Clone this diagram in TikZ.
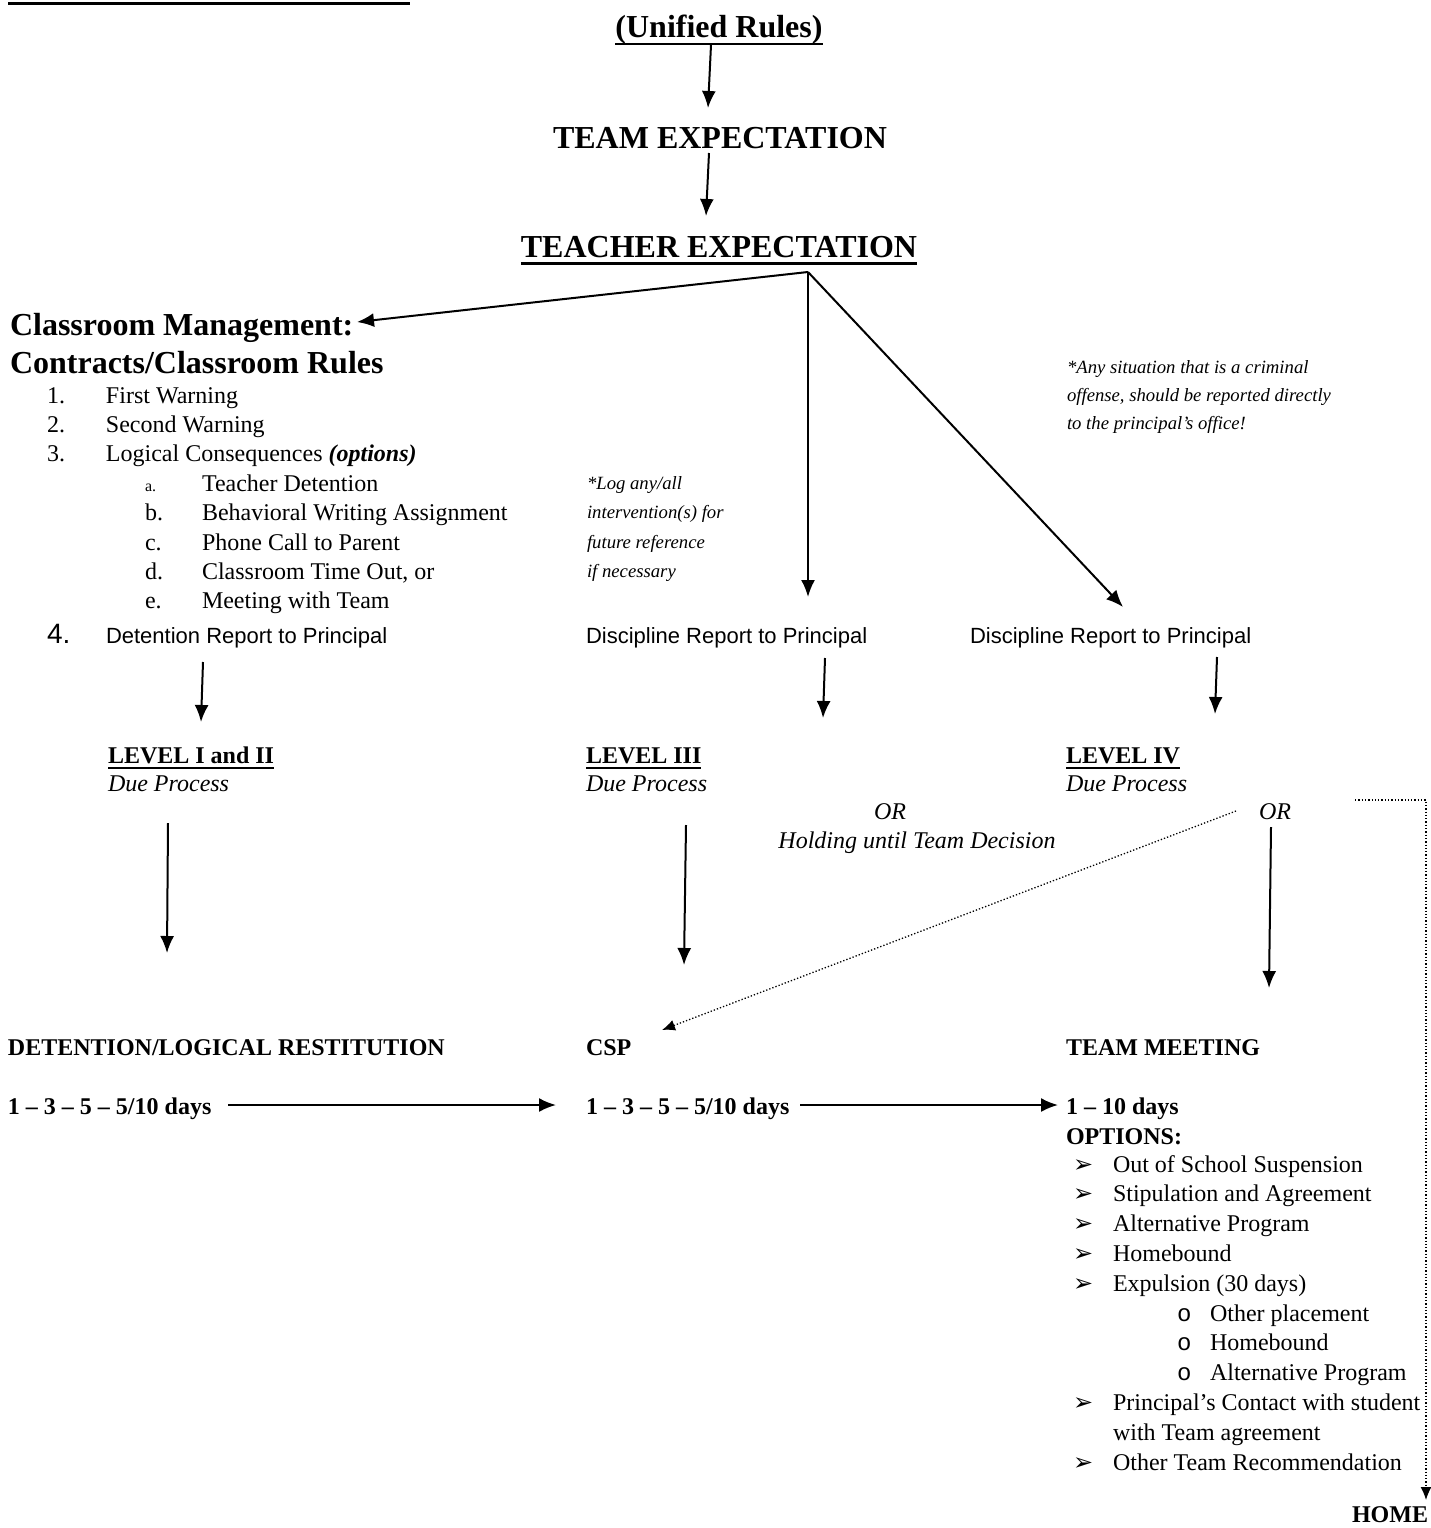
\documentclass[tikz,border=0pt]{standalone}
\usepackage{fontspec}
\setmainfont{Liberation Serif}
\newfontfamily\arialfont{Liberation Sans}
\newfontfamily\courfont{Liberation Mono}
\newfontfamily\dingfont{DejaVu Sans}
\usetikzlibrary{positioning,arrows.meta}
\newcommand{\undl}[1]{\setbox0\hbox{#1}\rlap{\vrule height -0.16em depth 0.24em width \wd0}\box0}
\newcommand{\arrbul}{\makebox[40pt][l]{\dingfont\bfseries ➢}}
\tikzset{every node/.style={inner sep=0pt, outer sep=0pt, anchor=base west}, >={Latex[length=17pt,width=14pt]},
  head/.style={font=\fontsize{32}{38}\selectfont\bfseries},
  body/.style={font=\fontsize{24}{29}\selectfont},
  bodyb/.style={font=\fontsize{24}{29}\selectfont\bfseries},
  bodyi/.style={font=\fontsize{24}{29}\selectfont\itshape},
  note/.style={font=\fontsize{18.7}{29.6}\selectfont\itshape, align=left},
  arial/.style={font=\arialfont\fontsize{22}{26}\selectfont},
  conn/.style={->, line width=2pt},
  dotline/.style={-{Latex[length=13pt,width=11pt]}, dotted, line width=1.3pt}}

\begin{document}
\begin{tikzpicture}[x=1pt, y=-1pt]
            \useasboundingbox (0,0) rectangle (1430,1528);
            \draw [line width=3pt] (8,3.5) -- (410,3.5);
            \node [head, anchor=base] (unified) at (719,37.5) {\undl{(Unified Rules)}};
            \node [head, anchor=base] (team) at (720,148) {TEAM EXPECTATION};
            \node [head, anchor=base] (teacher) at (719,257) {\undl{TEACHER EXPECTATION}};
            \coordinate (hub) at ([shift={(89,15)}]teacher.base);

            % classroom management column
            \node [head] (cm1) at (10,335) {Classroom Management:};
            \node [head, below=38pt of cm1.base west, anchor=base west] (cm2) {Contracts/Classroom Rules};
            \node [body] (l1) at (47,403) {\makebox[59pt][l]{1.}First Warning};
            \node [body, below=29.4pt of l1.base west, anchor=base west] (l2) {\makebox[59pt][l]{2.}Second Warning};
            \node [body, below=29.4pt of l2.base west, anchor=base west] (l3) {\makebox[59pt][l]{3.}Logical Consequences \textbf{\textit{(options)}}};
            \node [body] (la) at (145,491.2) {\makebox[57pt][l]{\fontsize{16}{18}\selectfont a.}Teacher Detention};
            \node [body, below=29.4pt of la.base west, anchor=base west] (lb) {\makebox[57pt][l]{b.}Behavioral Writing Assignment};
            \node [body, below=29.4pt of lb.base west, anchor=base west] (lc) {\makebox[57pt][l]{c.}Phone Call to Parent};
            \node [body, below=29.4pt of lc.base west, anchor=base west] (ld) {\makebox[57pt][l]{d.}Classroom Time Out, or};
            \node [body, below=29.4pt of ld.base west, anchor=base west] (le) {\makebox[57pt][l]{e.}Meeting with Team};
            \node [arial] (l4) at (47,643) {\makebox[59pt][l]{\fontsize{28}{30}\selectfont 4.}Detention Report to Principal};

            % side notes (base is the last line)
            \node [note] (lognote) at (587,577.8) {*Log any/all\\intervention(s) for\\future reference\\if necessary};
            \node [note, font=\fontsize{18.7}{28}\selectfont\itshape] (crimenote) at (1067,429) {*Any situation that is a criminal\\offense, should be reported directly\\to the principal's office!};

            \node [arial] (rep2) at (586,643) {Discipline Report to Principal};
            \node [arial] (rep3) at (970,643) {Discipline Report to Principal};

            % levels
            \node [bodyb] (lev12) at (108,763) {\undl{LEVEL I and II}};
            \node [bodyi, below=28pt of lev12.base west, anchor=base west] (dp12) {Due Process};
            \node [bodyb] (lev3) at (586,763) {\undl{LEVEL III}};
            \node [bodyi, below=28pt of lev3.base west, anchor=base west] (dp3) {Due Process};
            \node [bodyb] (lev4) at (1066,763) {\undl{LEVEL IV}};
            \node [bodyi, below=28pt of lev4.base west, anchor=base west] (dp4) {Due Process};
            \node [bodyi, anchor=base] (or1) at (890,819) {OR};
            \node [bodyi, anchor=base] (hold) at (917,848) {Holding until Team Decision};
            \node [bodyi, anchor=base] (or2) at (1275,819) {OR};

            % outcomes
            \node [bodyb] (det) at (8,1055) {DETENTION/LOGICAL RESTITUTION};
            \node [bodyb] (csp) at (586,1055) {CSP};
            \node [bodyb] (meet) at (1066,1055) {TEAM MEETING};
            \node [bodyb] (days1) at (8,1114) {1 – 3 – 5 – 5/10 days};
            \node [bodyb] (days2) at (586,1114) {1 – 3 – 5 – 5/10 days};
            \node [bodyb] (days3) at (1066,1114) {1 – 10 days};
            \node [bodyb, below=30pt of days3.base west, anchor=base west] (opts) {OPTIONS:};
            \node [body] (o1) at (1073,1172) {\arrbul Out of School Suspension};
            \node [body, below=29.8pt of o1.base west, anchor=base west] (o2) {\arrbul Stipulation and Agreement};
            \node [body, below=29.8pt of o2.base west, anchor=base west] (o3) {\arrbul Alternative Program};
            \node [body, below=29.8pt of o3.base west, anchor=base west] (o4) {\arrbul Homebound};
            \node [body, below=29.8pt of o4.base west, anchor=base west] (o5) {\arrbul Expulsion (30 days)};
            \node [body] (o5a) at (1177,1321) {\makebox[33pt][l]{\courfont o}Other placement};
            \node [body, below=29.8pt of o5a.base west, anchor=base west] (o5b) {\makebox[33pt][l]{\courfont o}Homebound};
            \node [body, below=29.8pt of o5b.base west, anchor=base west] (o5c) {\makebox[33pt][l]{\courfont o}Alternative Program};
            \node [body] (o6) at (1073,1410.4) {\arrbul Principal's Contact with student};
            \node [body, below=29.8pt of o6.base west, anchor=base west] (o6b) {\makebox[40pt][l]{}with Team agreement};
            \node [body, below=29.8pt of o6b.base west, anchor=base west] (o7) {\arrbul Other Team Recommendation};
            \node [bodyb, anchor=base east] (home) at (1428,1522) {HOME};

            % connectors
            \draw [conn] ([shift={(-8,7.5)}]unified.base) -- ([shift={(-12,-40)}]team.base);
            \draw [conn] ([shift={(-11,5)}]team.base) -- ([shift={(-13,-41)}]teacher.base);
            \draw [conn] (hub) -- ([shift={(347,-13)}]cm1.base west);
            \draw [conn] (hub) -- ([shift={(222,-46)}]rep2.base west);
            \draw [conn] (hub) -- ([shift={(153,-36)}]rep3.base west);
            \draw [conn] ([shift={(156,19)}]l4.base west) -- ([shift={(93,-41)}]lev12.base west);
            \draw [conn] ([shift={(239,15)}]rep2.base west) -- ([shift={(237,-45)}]lev3.base west);
            \draw [conn] ([shift={(247,14)}]rep3.base west) -- ([shift={(149,-49)}]lev4.base west);
            \draw [conn] ([shift={(60,32)}]dp12.base west) -- ([shift={(159,-102)}]det.base west);
            \draw [conn] ([shift={(100,34)}]dp3.base west) -- ([shift={(98,-90)}]csp.base west);
            \draw [conn] ([shift={(-4,8)}]or2.base) -- ([shift={(203,-67)}]meet.base west);
            \draw [dotline] ([shift={(-39,-8)}]or2.base) -- ([shift={(76,-25)}]csp.base west);
            \draw [dotline] ([shift={(80,-19)}]or2.base) -| ([shift={(-2,-22)}]home.base east);
            \draw [conn] ([shift={(220,-9)}]days1.base west) -- ([shift={(-30,-9)}]days2.base west);
            \draw [conn] ([shift={(214,-9)}]days2.base west) -- ([shift={(-8,-9)}]days3.base west);
        \end{tikzpicture}
\end{document}
